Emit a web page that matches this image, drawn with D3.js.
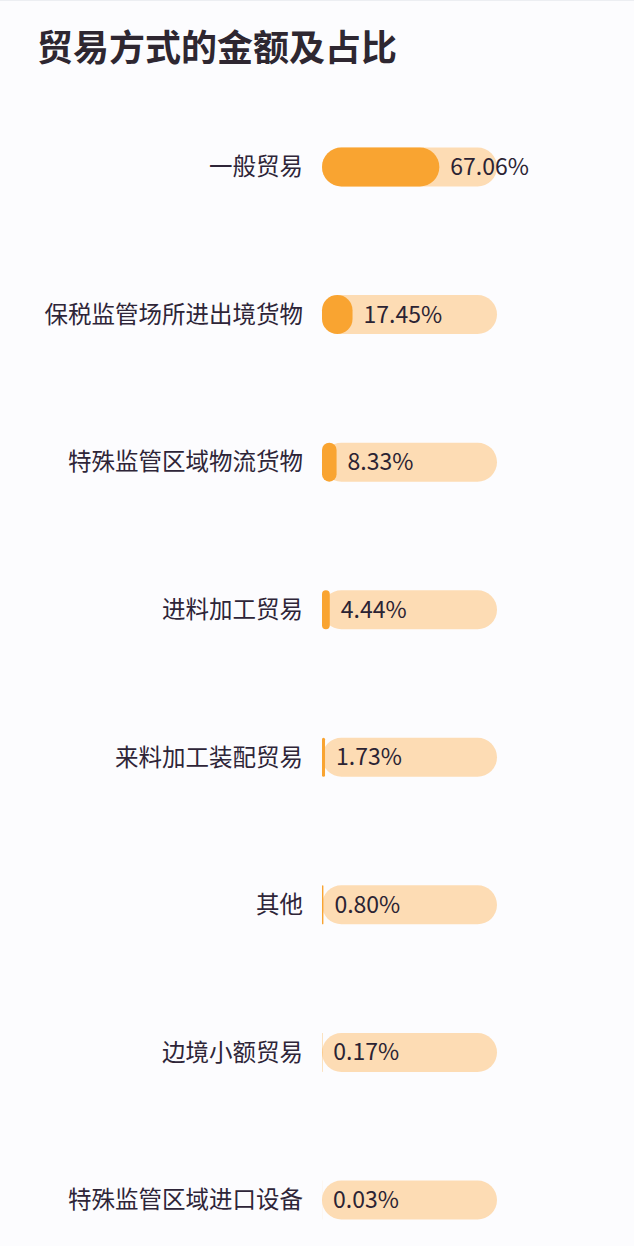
<!DOCTYPE html>
<html>
<head>
<meta charset="utf-8">
<script src="https://cdn.jsdelivr.net/npm/d3@7"></script>
<style>
  html, body { margin: 0; padding: 0; background: #fcfcfe; }
  svg { display: block; }
</style>
</head>
<body>
<div id="chart"></div>
<script>
(function(){
    const width = 634;
    const height = 1246;

    // Data
    const categories = [
        "一般贸易",
        "保税监管场所进出境货物",
        "特殊监管区域物流货物",
        "进料加工贸易",
        "来料加工装配贸易",
        "其他",
        "边境小额贸易",
        "特殊监管区域进口设备"
    ];
    const shares = [67.06, 17.45, 8.33, 4.44, 1.73, 0.80, 0.17, 0.03];
    const title = "贸易方式的金额及占比";

    const font = "'Noto Sans CJK SC', 'Noto Sans', sans-serif";
    const barH = 39;

    const svg = d3.select("#chart")
        .append("svg")
        .attr("width", width)
        .attr("height", height)
        .style("background", "#fcfcfe");

    // faint top edge
    svg.append("line")
        .attr("x1", 0).attr("x2", width)
        .attr("y1", 0.5).attr("y2", 0.5)
        .style("stroke", "#eceef2");

    svg.append("text")
        .attr("x", 37)
        .attr("y", 61)
        .style("font-family", font)
        .style("font-size", "36px")
        .style("font-weight", "bold")
        .style("fill", "#2e2731")
        .text(title);

    const x = d3.scaleLinear()
        .domain([0, 100])
        .range([322, 497]);

    const y = d3.scalePoint()
        .domain(categories)
        .range([167, 1200]);

    const rows = svg.selectAll(".row")
        .data(categories.map((c, i) => ({ name: c, value: shares[i] })))
        .enter()
        .append("g")
        .attr("class", "row")
        .attr("transform", d => `translate(0,${y(d.name)})`);

    // background track
    rows.append("rect")
        .attr("x", x(0))
        .attr("y", -barH / 2)
        .attr("width", x(100) - x(0))
        .attr("height", barH)
        .attr("rx", barH / 2)
        .attr("ry", barH / 2)
        .style("fill", "#fddcb4");

    // value bar, corner radius limited by its own width
    rows.append("rect")
        .attr("x", x(0))
        .attr("y", -barH / 2)
        .attr("width", d => x(d.value) - x(0))
        .attr("height", barH)
        .attr("rx", d => Math.min(barH / 2, (x(d.value) - x(0)) / 2))
        .attr("ry", d => Math.min(barH / 2, (x(d.value) - x(0)) / 2))
        .style("fill", "#f9a431");

    // category labels
    rows.append("text")
        .attr("x", 303)
        .attr("dy", "0.35em")
        .attr("text-anchor", "end")
        .style("font-family", font)
        .style("font-size", "23.5px")
        .style("fill", "#2e2538")
        .text(d => d.name);

    // value labels
    rows.append("text")
        .attr("x", d => x(d.value) + 11)
        .attr("dy", "0.35em")
        .style("font-family", font)
        .style("font-size", "23px")
        .style("fill", "#2b2333")
        .text(d => d.value.toFixed(2) + "%");
})();
</script>
</body>
</html>
